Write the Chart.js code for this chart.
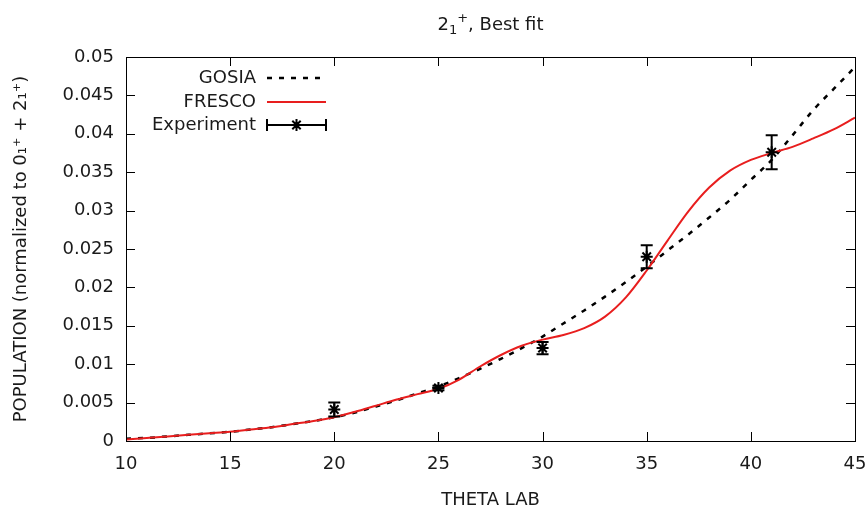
<!DOCTYPE html>
<html>
<head>
<meta charset="utf-8">
<script src="https://cdn.jsdelivr.net/npm/chart.js@4/dist/chart.umd.min.js"></script>
<style>
  html, body { margin: 0; padding: 0; background: #fff; }
  #wrap { width: 867px; height: 512px; }
</style>
</head>
<body>
<div id="wrap"><canvas id="chart"></canvas></div>
<script>
// angles (deg) for the two calculated curves
const theta = [10, 11, 12, 13, 14, 15, 16, 17, 18, 19, 20, 21, 22, 23, 24, 25, 26, 27,
  28, 29, 30, 31, 32, 33, 34, 35, 36, 37, 38, 39, 40, 41, 42, 43, 44, 45];

const gosia = [0.0003, 0.0004, 0.0006, 0.0008, 0.0010, 0.0012, 0.0015, 0.0018, 0.0022,
  0.0026, 0.0031, 0.0037, 0.0045, 0.0053, 0.0062, 0.0071, 0.0082, 0.0094, 0.0107,
  0.0121, 0.0136, 0.0153, 0.0170, 0.0188, 0.0207, 0.0227, 0.0248, 0.0269, 0.0291,
  0.0314, 0.0340, 0.0366, 0.0398, 0.0431, 0.0459, 0.0487];

const fresco = [0.0002, 0.0004, 0.0006, 0.0008, 0.0010, 0.0012, 0.0015, 0.0018, 0.0022,
  0.0026, 0.0031, 0.0038, 0.0046, 0.0054, 0.0061, 0.0068, 0.0080, 0.0097, 0.0112,
  0.0124, 0.0132, 0.0138, 0.0147, 0.0162, 0.0187, 0.0222, 0.0261, 0.0299, 0.0330,
  0.0352, 0.0366, 0.0375, 0.0383, 0.0394, 0.0406, 0.0421];

// measured points
const expTheta = [20, 25, 30, 35, 41];
const expPop = [0.0041, 0.0069, 0.0121, 0.0240, 0.0376];
const expErr = [0.0009, 0.0003, 0.0008, 0.0015, 0.0022];

const xTicks = [10, 15, 20, 25, 30, 35, 40, 45];
const yTicks = [0, 0.005, 0.01, 0.015, 0.02, 0.025, 0.03, 0.035, 0.04, 0.045, 0.05];

const legendLabels = ['GOSIA', 'FRESCO', 'Experiment'];
// title pieces: base, subscript, superscript, rest
const titleParts = ['2', '1', '+', ', Best fit'];

const FONT = 'DejaVu Sans';
const TXT = '#1a1a1a';
const RED = 'rgb(232, 30, 30)';

const toXY = (xs, ys) => xs.map((x, i) => ({ x: x, y: ys[i] }));

// error bars on the experiment points
const errorBars = {
  id: 'errorBars',
  afterDatasetsDraw(chart) {
    const { ctx, scales: { x, y } } = chart;
    ctx.save();
    ctx.strokeStyle = '#000';
    ctx.lineWidth = 2;
    expTheta.forEach((t, i) => {
      const px = x.getPixelForValue(t);
      const y1 = y.getPixelForValue(expPop[i] - expErr[i]);
      const y2 = y.getPixelForValue(expPop[i] + expErr[i]);
      ctx.beginPath();
      ctx.moveTo(px, y1); ctx.lineTo(px, y2);
      ctx.moveTo(px - 6, y1); ctx.lineTo(px + 6, y1);
      ctx.moveTo(px - 6, y2); ctx.lineTo(px + 6, y2);
      ctx.stroke();
    });
    ctx.restore();
  }
};

// gnuplot style frame with inward ticks, title and legend
const frame = {
  id: 'frame',
  afterDraw(chart) {
    const { ctx, chartArea: a, scales: { x, y } } = chart;
    ctx.save();
    ctx.strokeStyle = '#000';
    ctx.lineWidth = 1;
    ctx.strokeRect(a.left + 0.5, a.top + 0.5, a.right - a.left, a.bottom - a.top);
    ctx.beginPath();
    xTicks.forEach(v => {
      const px = Math.round(x.getPixelForValue(v)) + 0.5;
      ctx.moveTo(px, a.bottom); ctx.lineTo(px, a.bottom - 9);
      ctx.moveTo(px, a.top); ctx.lineTo(px, a.top + 9);
    });
    yTicks.forEach(v => {
      const py = Math.round(y.getPixelForValue(v)) + 0.5;
      ctx.moveTo(a.left, py); ctx.lineTo(a.left + 9, py);
      ctx.moveTo(a.right, py); ctx.lineTo(a.right - 9, py);
    });
    ctx.stroke();

    // title, centred over the plot area
    const big = '18px "' + FONT + '"', small = '13px "' + FONT + '"';
    ctx.fillStyle = TXT;
    ctx.textAlign = 'left';
    ctx.textBaseline = 'alphabetic';
    ctx.font = big;
    const w0 = ctx.measureText(titleParts[0]).width;
    const w3 = ctx.measureText(titleParts[3]).width;
    ctx.font = small;
    const w1 = ctx.measureText(titleParts[1]).width;
    const w2 = ctx.measureText(titleParts[2]).width;
    const total = w0 + w1 + w2 + w3;
    let tx = (a.left + a.right) / 2 - total / 2;
    const base = 30;
    ctx.font = big; ctx.fillText(titleParts[0], tx, base); tx += w0;
    ctx.font = small; ctx.fillText(titleParts[1], tx, base + 4); tx += w1;
    ctx.fillText(titleParts[2], tx, base - 8); tx += w2;
    ctx.font = big; ctx.fillText(titleParts[3], tx, base);

    // legend
    const textRight = 256, s0 = 267, s1 = 326;
    const rows = [78, 102, 125];
    ctx.font = big;
    ctx.textAlign = 'right';
    ctx.textBaseline = 'middle';
    legendLabels.forEach((lab, i) => ctx.fillText(lab, textRight, rows[i]));

    ctx.lineWidth = 2.5;
    ctx.strokeStyle = '#000';
    ctx.setLineDash([5, 7]);
    ctx.beginPath(); ctx.moveTo(s0, rows[0]); ctx.lineTo(s1, rows[0]); ctx.stroke();
    ctx.setLineDash([]);
    ctx.lineWidth = 2;
    ctx.strokeStyle = RED;
    ctx.beginPath(); ctx.moveTo(s0, rows[1]); ctx.lineTo(s1, rows[1]); ctx.stroke();
    ctx.strokeStyle = '#000';
    ctx.beginPath();
    ctx.moveTo(s0, rows[2]); ctx.lineTo(s1, rows[2]);
    ctx.moveTo(s0, rows[2] - 6); ctx.lineTo(s0, rows[2] + 6);
    ctx.moveTo(s1, rows[2] - 6); ctx.lineTo(s1, rows[2] + 6);
    const mx = (s0 + s1) / 2, r = 6;
    ctx.moveTo(mx - r, rows[2]); ctx.lineTo(mx + r, rows[2]);
    ctx.moveTo(mx, rows[2] - r); ctx.lineTo(mx, rows[2] + r);
    ctx.moveTo(mx - r * 0.7, rows[2] - r * 0.7); ctx.lineTo(mx + r * 0.7, rows[2] + r * 0.7);
    ctx.moveTo(mx - r * 0.7, rows[2] + r * 0.7); ctx.lineTo(mx + r * 0.7, rows[2] - r * 0.7);
    ctx.stroke();
    ctx.restore();
  }
};

new Chart(document.getElementById('chart').getContext('2d'), {
  type: 'scatter',
  data: {
    datasets: [
      {
        label: legendLabels[2],
        data: toXY(expTheta, expPop),
        pointStyle: 'star',
        pointRadius: 6,
        pointBorderWidth: 2,
        borderColor: '#000',
        backgroundColor: '#000',
        showLine: false,
        order: 0
      },
      {
        label: legendLabels[1],
        data: toXY(theta, fresco),
        showLine: true,
        borderColor: RED,
        borderWidth: 2,
        pointRadius: 0,
        cubicInterpolationMode: 'monotone',
        order: 1
      },
      {
        label: legendLabels[0],
        data: toXY(theta, gosia),
        showLine: true,
        borderColor: '#000',
        borderWidth: 2.5,
        borderDash: [5, 7],
        pointRadius: 0,
        cubicInterpolationMode: 'monotone',
        order: 2
      }
    ]
  },
  options: {
    responsive: true,
    maintainAspectRatio: false,
    animation: false,
    layout: { padding: { top: 57, right: 0, left: 0, bottom: 0 } },
    plugins: {
      legend: { display: false },
      tooltip: { enabled: false },
      title: { display: false }
    },
    scales: {
      x: {
        type: 'linear',
        min: 10,
        max: 45,
        afterFit: s => { s.height = 71; s.paddingRight = 12; s.paddingLeft = 0; },
        afterBuildTicks: s => { s.ticks = xTicks.map(v => ({ value: v })); },
        grid: { display: false, drawTicks: false },
        border: { display: false },
        ticks: { color: TXT, padding: 13, maxRotation: 0, font: { family: FONT, size: 18 } },
        title: {
          display: true,
          text: 'THETA LAB',
          color: TXT,
          font: { family: FONT, size: 18 },
          padding: { top: 0, bottom: 1 }
        }
      },
      y: {
        min: 0,
        max: 0.05,
        afterFit: s => { s.width = 126; s.paddingTop = 0; s.paddingBottom = 0; },
        afterBuildTicks: s => { s.ticks = yTicks.map(v => ({ value: v })); },
        grid: { display: false, drawTicks: false },
        border: { display: false },
        ticks: {
          color: TXT,
          padding: 12,
          font: { family: FONT, size: 18 },
          callback: v => String(parseFloat(v.toFixed(3)))
        },
        title: {
          display: true,
          text: 'POPULATION (normalized to 0\u2081\u207A + 2\u2081\u207A)',
          color: TXT,
          font: { family: FONT, size: 18 },
          padding: { top: 11, bottom: 0 }
        }
      }
    }
  },
  plugins: [errorBars, frame]
});
</script>
</body>
</html>
